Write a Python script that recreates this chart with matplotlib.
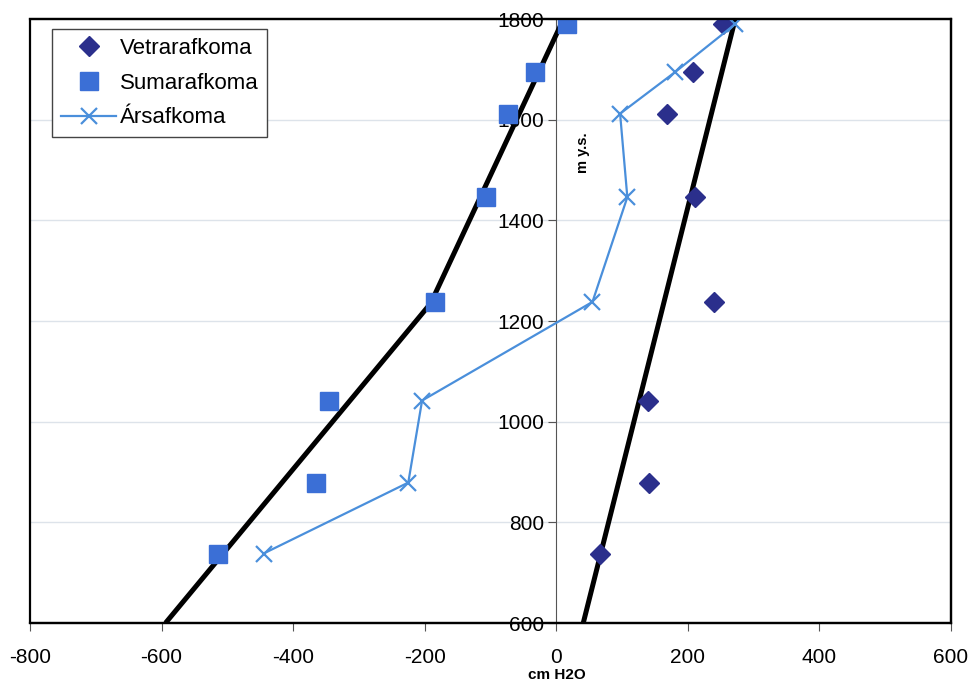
import matplotlib.pyplot as plt
from matplotlib.patches import Rectangle

plt.rcParams['font.family'] = ['Liberation Sans', 'DejaVu Sans']
plt.rcParams['axes.unicode_minus'] = False

# elevation of the stations (m y.s.)
haed = [738, 879, 1042, 1238, 1446, 1612, 1695, 1790]
vetur = [67, 141, 140, 239, 211, 169, 208, 254]
sumar = [-514, -366, -346, -184, -107, -73, -33, 16]
ars = [-445, -225, -204, 55, 108, 97, 181, 272]

# hand drawn trend lines
sumar_lina_x = [-594, -191, 11]
sumar_lina_y = [600, 1235, 1800]
vetur_lina_x = [41, 272]
vetur_lina_y = [600, 1800]

xticks = [-800, -600, -400, -200, 0, 200, 400, 600]
yticks = [600, 800, 1000, 1200, 1400, 1600, 1800]

fig = plt.figure(figsize=(9.71, 6.82), dpi=100)
ax = fig.add_axes([0.0309, 0.0865, 0.9485, 0.8856])

for yt in yticks[1:-1]:
  ax.axhline(yt, color='#dde3ea', lw=1, zorder=0)

ax.plot(sumar_lina_x, sumar_lina_y, color='black', lw=3.6, zorder=3, solid_capstyle='butt')
ax.plot(vetur_lina_x, vetur_lina_y, color='black', lw=3.6, zorder=3, solid_capstyle='butt')

ax.plot(vetur, haed, ls='none', marker='D', ms=10.5, color='#2b2f8c', label='Vetrarafkoma', zorder=4)
ax.plot(sumar, haed, ls='none', marker='s', ms=13.5, color='#3b6fd6', label='Sumarafkoma', zorder=4)
ax.plot(ars, haed, color='#4a8fdb', lw=1.6, marker='x', ms=12, mew=1.6, label='Ársafkoma', zorder=5)

ax.set_xlim(-800, 600)
ax.set_ylim(600, 1800)
ax.set_xticks(xticks)
ax.set_yticks(yticks)

ax.spines['left'].set_position(('data', 0))
ax.spines['left'].set_color('#555555')
ax.spines['left'].set_linewidth(0.8)
for s in ['top', 'right', 'bottom']:
  ax.spines[s].set_linewidth(1.6)
  ax.spines[s].set_color('black')
ax.add_patch(Rectangle((0, 0), 1, 1, transform=ax.transAxes, fill=False, ec='black', lw=1.6, clip_on=False, zorder=6))

ax.tick_params(axis='y', direction='out', length=6, width=0.8, color='#555555', pad=3, labelsize=15)
ax.tick_params(axis='x', direction='out', length=6, width=0.8, color='#555555', pad=12, labelsize=15)

fig.text(0.573, 0.0, 'cm H2O', fontsize=11, fontweight='bold', ha='center', va='bottom')
ax.text(40, 1535, 'm y.s.', fontsize=10.5, fontweight='bold', rotation=90, ha='center', va='center')

leg = ax.legend(loc='upper left', bbox_to_anchor=(0.0536, 0.9575), bbox_transform=fig.transFigure,
                fontsize=16, frameon=True, fancybox=False, edgecolor='#444444', framealpha=1,
                borderaxespad=0, numpoints=1, handlelength=2.5, handletextpad=0.15,
                labelspacing=0.62, borderpad=0.4)
leg.get_frame().set_linewidth(1)

plt.savefig('out.png', dpi=100)
